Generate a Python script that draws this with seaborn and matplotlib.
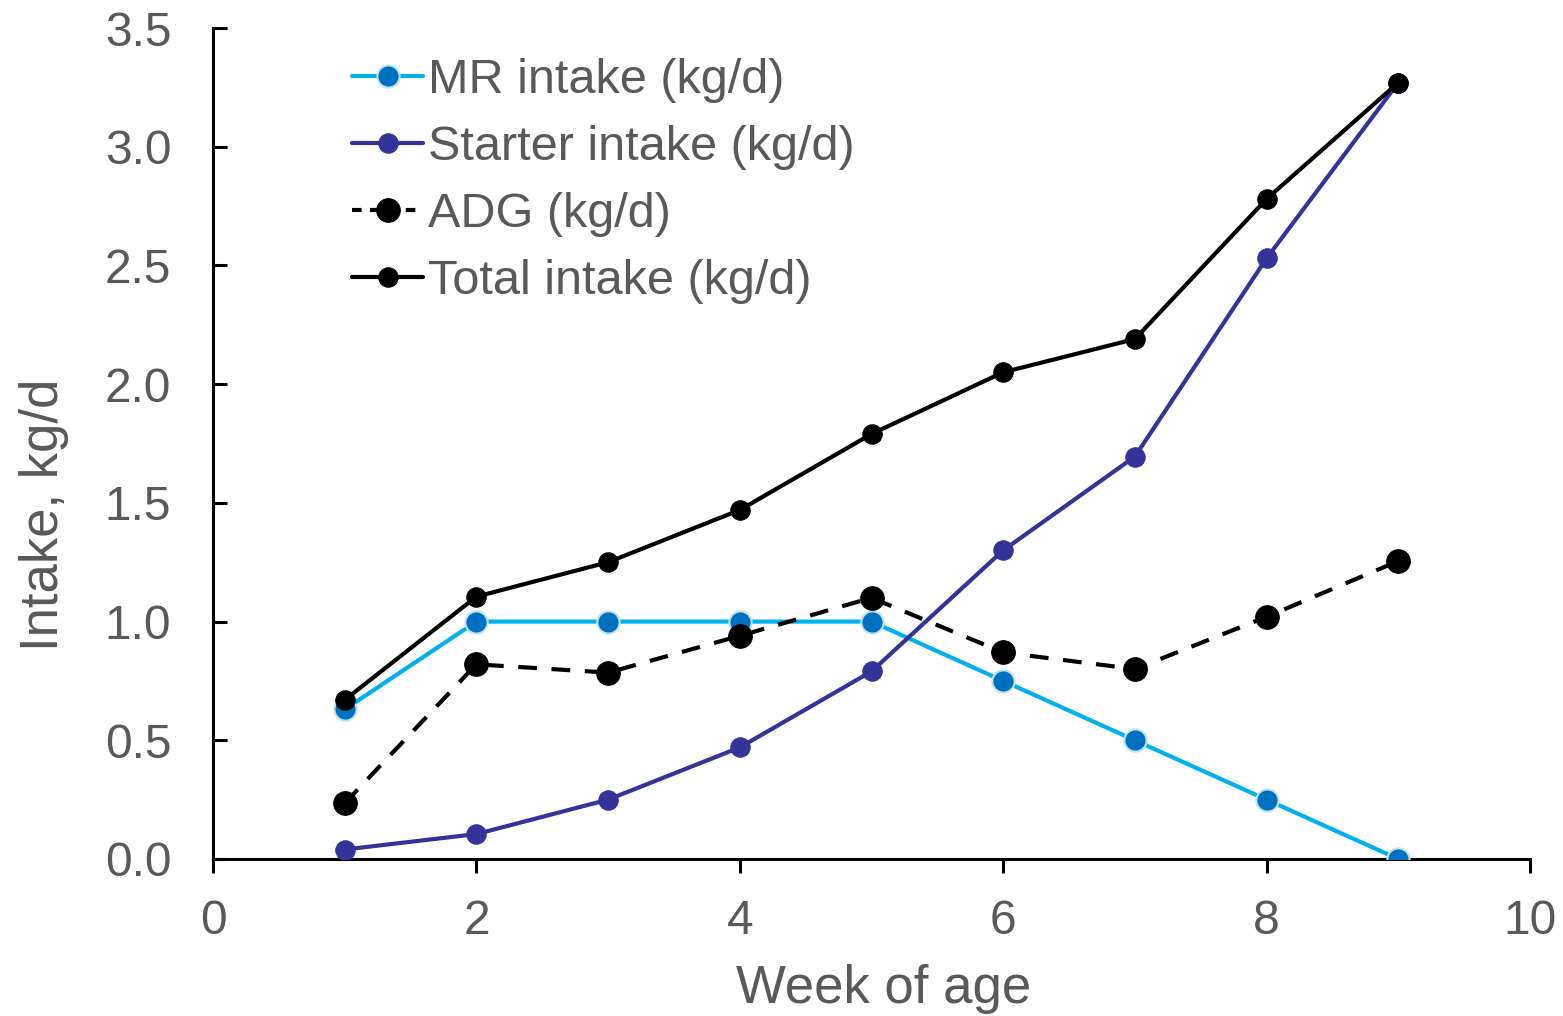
import matplotlib
matplotlib.use("Agg")
import matplotlib.pyplot as plt
import seaborn as sns
import pandas as pd

weeks = [1, 2, 3, 4, 5, 6, 7, 8, 9]
mr_intake = [0.63, 1.0, 1.0, 1.0, 1.0, 0.75, 0.5, 0.25, 0.0]
starter_intake = [0.04, 0.105, 0.25, 0.47, 0.79, 1.30, 1.695, 2.53, 3.27]
adg = [0.235, 0.82, 0.785, 0.94, 1.10, 0.87, 0.80, 1.02, 1.255]
total_intake = [0.67, 1.105, 1.25, 1.47, 1.79, 2.05, 2.19, 2.78, 3.27]

sns.set_theme(style="white")
plt.rcParams['font.family'] = ['Liberation Sans', 'DejaVu Sans']

fig = plt.figure(figsize=(15.63, 10.16), dpi=100)
ax = fig.add_axes([213/1563, 1-859/1016, (1530-213)/1563, (859-28)/1016])

df = pd.DataFrame({"week": weeks, "mr": mr_intake, "st": starter_intake,
                   "adg": adg, "tot": total_intake})

sns.lineplot(data=df, x="week", y="mr", ax=ax, color="#00B0F0", lw=3,
             marker="o", markersize=16, markerfacecolor="#0070C0",
             markeredgecolor="#BFE4EE", markeredgewidth=1.5,
             label="MR intake (kg/d)", zorder=3)
sns.lineplot(data=df, x="week", y="st", ax=ax, color="#333399", lw=3,
             marker="o", markersize=14, markerfacecolor="#333399",
             markeredgecolor="#333399", label="Starter intake (kg/d)", zorder=3)
sns.lineplot(data=df, x="week", y="adg", ax=ax, color="black", lw=3,
             marker="o", markersize=17, markerfacecolor="black",
             markeredgecolor="black", label="ADG (kg/d)", zorder=4)
ax.lines[-1].set_dashes((4.5, 3.5))
sns.lineplot(data=df, x="week", y="tot", ax=ax, color="black", lw=3,
             marker="o", markersize=14, markerfacecolor="black",
             markeredgecolor="black", label="Total intake (kg/d)", zorder=5)

ax.set_xlim(0, 10)
ax.set_ylim(0, 3.5)
ax.set_xticks([0, 2, 4, 6, 8, 10])
ax.set_xticklabels(["0", "2", "4", "6", "8", "10"])
ax.set_yticks([0, 0.5, 1, 1.5, 2, 2.5, 3, 3.5])
ax.set_yticklabels(["0.0", "0.5", "1.0", "1.5", "2.0", "2.5", "3.0", "3.5"])

for s in ["top", "right"]:
    ax.spines[s].set_visible(False)
for s in ["left", "bottom"]:
    ax.spines[s].set_color("black")
    ax.spines[s].set_linewidth(2.2)

ax.tick_params(axis="x", which="major", direction="out", length=10, width=2.2,
               color="black", labelsize=34.5, labelcolor="#595959", pad=19,
               bottom=True)
ax.tick_params(axis="y", which="major", direction="in", length=10, width=2.2,
               color="black", labelsize=34.5, labelcolor="#595959", pad=30,
               left=True)

ax.set_xlabel("Week of age", fontsize=38, color="#595959", labelpad=14)
ax.set_ylabel("Intake, kg/d", fontsize=38, color="#595959", labelpad=26)
ax.xaxis.label.set_x(0.509)
ax.yaxis.label.set_y(0.414)

leg = ax.legend(loc="upper left", bbox_to_anchor=(0.091, 0.987), frameon=False,
                fontsize=35, labelcolor="#595959", handlelength=1.45,
                handletextpad=0.1, labelspacing=0.45, borderaxespad=0)
leg.get_lines()[2].set_dashes((2.3, 2.0))

fig.savefig("out.png", dpi=100)
